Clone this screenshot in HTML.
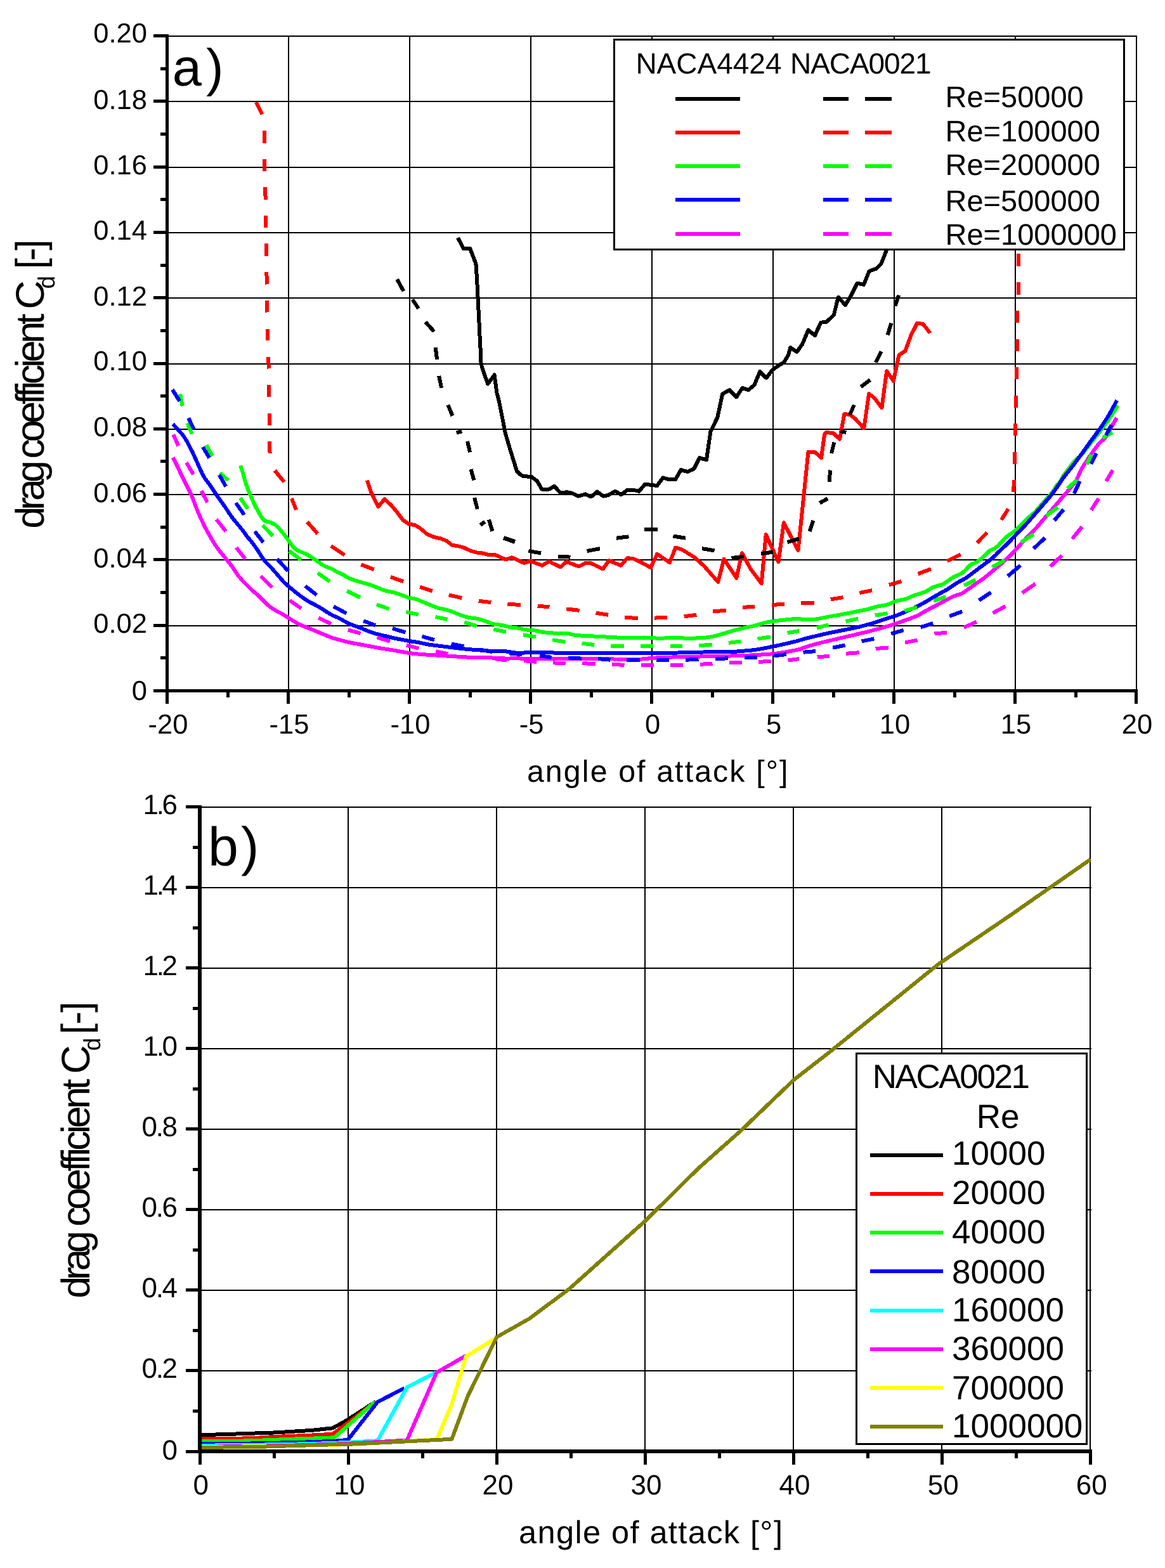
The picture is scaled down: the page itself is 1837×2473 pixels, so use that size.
<!DOCTYPE html>
<html><head><meta charset="utf-8"><title>drag coefficient</title>
<style>
html,body{margin:0;padding:0;background:#fff;}
svg{display:block;}
text{font-family:"Liberation Sans",Arial,sans-serif;fill:#000;text-rendering:geometricPrecision;}
</style></head>
<body>
<svg width="1837" height="2473" viewBox="0 0 1837 2473" shape-rendering="crispEdges">
<rect width="1837" height="2473" fill="#fff"/>
<rect x="266.00" y="985.70" width="1526.00" height="2.00" fill="#000"/>
<rect x="266.00" y="882.40" width="1526.00" height="2.00" fill="#000"/>
<rect x="266.00" y="779.10" width="1526.00" height="2.00" fill="#000"/>
<rect x="266.00" y="675.80" width="1526.00" height="2.00" fill="#000"/>
<rect x="266.00" y="572.50" width="1526.00" height="2.00" fill="#000"/>
<rect x="266.00" y="469.20" width="1526.00" height="2.00" fill="#000"/>
<rect x="266.00" y="365.90" width="1526.00" height="2.00" fill="#000"/>
<rect x="266.00" y="262.60" width="1526.00" height="2.00" fill="#000"/>
<rect x="266.00" y="159.30" width="1526.00" height="2.00" fill="#000"/>
<rect x="266.00" y="56.00" width="1526.00" height="2.00" fill="#000"/>
<rect x="453.50" y="56.00" width="2.00" height="1031.00" fill="#000"/>
<rect x="644.50" y="56.00" width="2.00" height="1031.00" fill="#000"/>
<rect x="835.50" y="56.00" width="2.00" height="1031.00" fill="#000"/>
<rect x="1026.50" y="56.00" width="2.00" height="1031.00" fill="#000"/>
<rect x="1217.50" y="56.00" width="2.00" height="1031.00" fill="#000"/>
<rect x="1408.50" y="56.00" width="2.00" height="1031.00" fill="#000"/>
<rect x="1599.50" y="56.00" width="2.00" height="1031.00" fill="#000"/>
<rect x="1790.50" y="56.00" width="2.00" height="1031.00" fill="#000"/>
<path d="M722.1,375.0 L730.8,392.3 L741.0,391.5 L750.4,415.9 L752.0,438.7 L753.6,470.2 L755.9,517.4 L757.5,548.9 L758.6,574.0 L763.0,588.2 L769.3,605.5 L779.6,591.4 L783.5,620.0 L786.6,631.5 L792.9,663.0 L796.9,683.4 L802.4,702.3 L808.7,722.8 L815.0,743.2 L820.0,747.9 L825.2,751.1 L837.8,751.9 L847.2,759.0 L854.3,771.5 L866.1,771.5 L874.0,766.8 L883.4,777.1 L894.4,776.3 L902.3,777.8 L911.7,782.6 L922.8,779.4 L932.2,783.4 L941.6,775.5 L951.1,782.6 L959.0,781.0 L970.0,774.7 L979.4,780.2 L988.9,773.1 L999.9,773.1 L1007.7,774.7 L1017.2,763.7 L1036.1,766.0 L1045.5,753.5 L1053.4,755.8 L1060.0,755.8 L1065.2,755.9 L1073.8,741.0 L1084.1,744.1 L1094.3,739.4 L1103.0,722.1 L1114.0,725.3 L1120.3,681.2 L1131.3,658.4 L1139.2,621.4 L1150.2,615.1 L1161.2,626.1 L1170.6,611.9 L1180.1,615.1 L1189.5,607.2 L1198.2,586.0 L1208.4,596.2 L1217.8,583.6 L1228.9,575.7 L1235.9,571.8 L1243.0,560.0 L1246.3,548.1 L1256.5,555.2 L1265.2,542.6 L1274.6,520.5 L1284.9,529.2 L1294.3,508.7 L1303.0,507.9 L1314.8,496.9 L1321.8,468.6 L1332.9,481.2 L1342.3,465.4 L1351.7,446.6 L1362.0,448.9 L1370.6,427.7 L1381.6,423.7 L1389.5,415.9 L1396.6,397.8 L1402.1,385.2" fill="none" stroke="#000000" stroke-width="6" stroke-linejoin="round"/>
<path d="M578.9,757.4 L585.2,776.3 L596.2,799.1 L606.4,787.3 L616.7,796.7 L626.1,807.7 L635.5,820.3 L645.0,826.6 L654.4,828.2 L662.3,832.9 L673.3,842.4 L684.3,847.1 L695.4,849.5 L704.8,853.4 L712.7,859.7 L721.9,861.2 L731.4,863.6 L740.8,868.3 L751.8,871.5 L760.0,872.3 L768.9,874.6 L781.5,875.4 L797.2,882.5 L807.4,879.3 L826.3,888.0 L836.6,884.9 L854.7,891.9 L865.7,885.6 L883.8,894.3 L893.2,886.0 L912.9,893.5 L923.1,888.0 L931.0,888.0 L950.7,897.4 L960.1,884.1 L979.0,891.9 L989.2,880.1 L998.7,881.2 L1010.0,886.4 L1026.0,895.1 L1036.2,873.8 L1055.9,887.2 L1065.3,863.6 L1075.5,866.8 L1094.4,878.6 L1110.2,892.7 L1132.2,917.9 L1141.6,881.7 L1161.3,911.6 L1170.0,872.3 L1184.1,898.2 L1200.7,920.3 L1207.7,843.1 L1227.4,886.4 L1235.9,824.4 L1258.5,868.0 L1274.5,712.7 L1285.5,713.5 L1295.0,722.1 L1300.0,685.9 L1302.3,682.0 L1313.9,683.0 L1324.1,692.7 L1331.3,653.0 L1340.0,653.9 L1347.8,659.8 L1362.3,675.3 L1370.1,621.0 L1378.8,627.8 L1390.4,643.3 L1398.2,585.2 L1408.8,600.7 L1417.5,560.0 L1427.3,553.6 L1436.7,528.4 L1446.2,509.5 L1455.6,511.1 L1466.6,525.3" fill="none" stroke="#ff0000" stroke-width="6" stroke-linejoin="round"/>
<path d="M378.9,734.1 L380.3,738.0 L381.6,741.7 L382.8,745.5 L383.9,749.3 L384.9,753.2 L386.1,757.1 L387.2,760.9 L388.4,764.7 L389.7,768.5 L391.1,772.3 L392.7,776.0 L394.2,779.6 L395.8,783.3 L397.4,787.0 L399.0,790.7 L400.7,794.3 L402.5,797.9 L404.3,801.5 L406.2,805.0 L408.2,808.5 L410.1,812.0 L412.2,815.4 L414.4,818.7 L417.2,821.3 L420.7,822.7 L424.6,823.5 L428.4,824.6 L431.9,826.4 L435.2,828.7 L438.1,831.4 L440.8,834.3 L443.4,837.3 L446.0,840.4 L448.5,843.5 L450.9,846.8 L453.2,850.0 L455.5,853.3 L457.8,856.6 L460.1,859.8 L462.7,862.9 L465.5,865.7 L468.8,867.9 L472.3,869.6 L476.1,871.1 L479.8,872.5 L483.4,874.1 L486.8,876.2 L490.1,878.5 L493.5,880.7 L496.9,882.8 L500.2,885.1 L503.5,887.4 L506.7,889.8 L510.1,891.9 L513.7,893.5 L517.4,894.9 L521.2,896.4 L524.8,898.1 L528.2,900.1 L531.7,902.1 L535.3,903.8 L539.0,905.4 L542.5,907.3 L545.8,909.5 L549.3,911.5 L552.9,913.1 L556.7,914.4 L560.5,915.7 L564.3,916.8 L568.2,917.9 L572.1,919.0 L575.9,920.1 L579.8,921.2 L583.6,922.3 L587.4,923.7 L591.1,925.2 L594.8,926.7 L598.5,928.2 L602.2,929.8 L606.0,931.2 L609.8,932.2 L613.8,932.9 L617.7,933.7 L621.6,934.6 L625.4,935.8 L629.2,937.0 L633.0,938.3 L636.8,939.8 L640.5,941.3 L644.2,942.6 L648.1,943.4 L652.1,944.0 L655.9,945.0 L659.7,946.4 L663.4,948.0 L667.1,949.5 L670.8,951.0 L674.5,952.5 L678.2,954.0 L681.9,955.5 L685.7,957.0 L689.4,958.5 L693.2,959.6 L697.1,960.3 L701.1,961.0 L704.9,962.0 L708.7,963.2 L712.5,964.6 L716.2,966.0 L719.9,967.6 L723.7,969.1 L727.4,970.5 L731.2,971.7 L735.0,972.9 L738.9,973.9 L742.9,974.5 L746.8,974.9 L750.8,975.5 L754.7,976.4 L758.5,977.6 L762.3,978.7 L766.1,979.9 L769.8,981.4 L773.6,982.9 L777.3,984.1 L781.2,984.9 L785.2,985.2 L789.2,985.6 L793.1,986.3 L797.0,987.3 L800.9,988.3 L804.7,989.2 L808.7,989.7 L812.7,990.1 L816.7,990.6 L820.6,991.4 L824.5,992.4 L828.4,993.2 L832.4,993.6 L836.4,993.8 L840.4,994.1 L844.3,994.5 L848.3,995.2 L852.1,996.2 L856.1,997.0 L860.0,997.5 L864.0,997.8 L868.0,998.1 L872.0,998.5 L876.0,998.9 L880.0,999.3 L884.0,999.5 L888.0,999.3 L891.9,999.0 L895.9,999.2 L899.8,1000.0 L903.6,1001.0 L907.5,1001.9 L911.5,1002.3 L915.5,1002.5 L919.5,1002.7 L923.5,1002.9 L927.5,1003.1 L931.5,1003.3 L935.5,1003.5 L939.5,1003.7 L943.5,1003.9 L947.5,1004.1 L951.6,1004.3 L955.6,1004.5 L959.6,1004.7 L963.6,1004.9 L967.6,1005.1 L971.6,1005.4 L975.6,1005.7 L979.6,1006.0 L983.6,1006.3 L987.6,1006.4 L991.6,1006.4 L995.6,1006.3 L999.6,1006.2 L1003.6,1006.2 L1007.6,1006.0 L1011.6,1005.8 L1015.6,1005.5 L1019.6,1005.6 L1023.6,1005.8 L1027.6,1006.1 L1031.6,1006.4 L1035.6,1006.6 L1039.6,1006.7 L1043.6,1006.6 L1047.6,1006.5 L1051.6,1006.4 L1055.6,1006.3 L1059.6,1006.2 L1063.6,1006.1 L1067.6,1006.2 L1071.6,1006.3 L1075.6,1006.4 L1079.7,1006.6 L1083.7,1006.7 L1087.7,1006.7 L1091.7,1006.7 L1095.7,1006.6 L1099.7,1006.4 L1103.7,1006.3 L1107.7,1006.1 L1111.7,1005.7 L1115.7,1005.2 L1119.6,1004.6 L1123.6,1004.0 L1127.5,1003.1 L1131.3,1002.0 L1135.2,1000.9 L1139.0,999.7 L1142.9,998.6 L1146.7,997.4 L1150.6,996.3 L1154.4,995.1 L1158.3,994.1 L1162.1,993.1 L1166.0,992.1 L1169.9,991.1 L1173.8,990.2 L1177.7,989.4 L1181.7,988.6 L1185.6,987.8 L1189.5,986.9 L1193.4,985.8 L1197.2,984.7 L1201.1,983.5 L1204.9,982.5 L1208.8,981.6 L1212.8,980.8 L1216.7,980.0 L1220.6,979.4 L1224.6,978.9 L1228.6,978.5 L1232.6,978.1 L1236.6,977.7 L1240.6,977.3 L1244.6,976.9 L1248.6,976.5 L1252.5,976.1 L1256.5,975.8 L1260.4,976.0 L1264.3,976.8 L1268.2,977.3 L1272.2,977.3 L1276.2,977.1 L1280.2,977.0 L1284.2,976.7 L1288.1,976.3 L1292.1,975.5 L1296.0,974.7 L1299.9,973.9 L1303.9,973.1 L1307.8,972.4 L1311.8,971.7 L1315.7,971.0 L1319.7,970.4 L1323.6,969.7 L1327.6,969.0 L1331.5,968.3 L1335.4,967.5 L1339.4,966.7 L1343.3,965.9 L1347.2,965.2 L1351.2,964.4 L1355.1,963.6 L1359.0,962.8 L1363.0,962.0 L1366.9,961.2 L1370.8,960.1 L1374.6,959.0 L1378.4,957.9 L1382.3,956.8 L1386.2,956.0 L1390.2,955.3 L1394.1,954.7 L1398.0,953.9 L1401.8,952.7 L1405.4,951.0 L1409.1,949.4 L1412.8,948.1 L1416.7,947.0 L1420.6,946.3 L1424.6,945.6 L1428.4,944.7 L1432.1,943.1 L1435.7,941.4 L1439.4,939.8 L1443.1,938.4 L1447.0,937.2 L1450.8,936.1 L1454.6,935.0 L1458.3,933.6 L1461.8,931.7 L1465.3,929.6 L1468.7,927.5 L1472.3,925.8 L1476.1,924.5 L1479.9,923.4 L1483.8,922.6 L1487.4,921.1 L1490.7,919.0 L1493.9,916.6 L1497.2,914.3 L1500.5,912.0 L1503.9,910.0 L1507.5,908.3 L1511.2,906.8 L1514.8,905.0 L1518.2,902.9 L1521.1,900.3 L1523.9,897.4 L1526.6,894.4 L1529.4,891.7 L1532.7,889.6 L1536.4,888.2 L1540.0,886.6 L1543.2,884.3 L1546.3,881.8 L1549.4,879.2 L1552.3,876.5 L1555.2,873.7 L1558.0,870.9 L1561.0,868.3 L1564.5,866.6 L1568.1,865.1 L1571.3,862.9 L1574.2,860.1 L1576.9,857.3 L1579.7,854.3 L1582.4,851.4 L1585.2,848.5 L1588.2,845.9 L1591.4,843.5 L1594.7,841.2 L1598.0,838.9 L1601.1,836.5 L1604.1,833.8 L1607.0,831.0 L1609.8,828.1 L1612.7,825.3 L1615.5,822.5 L1618.3,819.6 L1621.2,816.8 L1624.1,814.1 L1627.2,811.5 L1630.3,809.0 L1633.2,806.2 L1635.8,803.3 L1638.4,800.2 L1641.0,797.1 L1643.7,794.1 L1646.3,791.1 L1649.0,788.2 L1651.7,785.2 L1654.4,782.2 L1657.1,779.3 L1659.6,776.2 L1661.8,772.8 L1663.8,769.3 L1665.9,766.0 L1668.4,763.0 L1671.2,760.3 L1673.4,757.2 L1675.0,753.6 L1677.0,750.1 L1679.3,746.9 L1681.7,743.7 L1684.1,740.5 L1686.6,737.3 L1689.0,734.1 L1691.4,730.9 L1693.9,727.8 L1696.7,725.0 L1699.7,722.3 L1702.8,719.7 L1705.6,716.9 L1708.2,713.9 L1710.7,710.7 L1713.1,707.5 L1715.6,704.4 L1718.0,701.2 L1720.5,698.0 L1723.0,694.9 L1725.5,691.7 L1728.0,688.6 L1730.5,685.5 L1733.0,682.3 L1735.5,679.2 L1737.9,676.0 L1740.3,672.8 L1742.7,669.6 L1745.1,666.4 L1747.5,663.2 L1749.7,659.8 L1751.9,656.5 L1754.1,653.1 L1756.2,649.7 L1758.4,646.3 L1760.5,643.0 L1762.7,639.6" fill="none" stroke="#00ff00" stroke-width="6" stroke-linejoin="round"/>
<path d="M272.7,668.8 L275.6,672.0 L278.1,674.7 L280.8,677.6 L283.5,680.6 L286.1,683.7 L288.6,686.8 L290.9,690.0 L293.1,693.4 L295.1,696.8 L297.0,700.3 L298.8,703.9 L300.6,707.5 L302.4,711.0 L304.2,714.6 L305.9,718.3 L307.5,721.9 L309.2,725.6 L310.8,729.2 L312.4,732.9 L314.1,736.6 L315.7,740.2 L317.4,743.9 L319.1,747.5 L321.0,751.0 L323.1,754.4 L325.4,757.6 L327.9,760.7 L330.3,763.9 L332.6,767.2 L334.7,770.6 L336.9,774.0 L339.1,777.3 L341.4,780.6 L343.7,783.8 L346.0,787.1 L348.4,790.4 L350.7,793.6 L353.0,796.9 L355.3,800.2 L357.5,803.5 L359.7,806.9 L361.9,810.2 L364.2,813.5 L366.5,816.7 L369.0,819.9 L371.5,823.0 L374.1,826.1 L376.6,829.1 L379.2,832.2 L381.7,835.4 L384.1,838.6 L386.5,841.8 L388.8,845.0 L391.3,848.2 L393.9,851.2 L396.4,854.3 L398.9,857.4 L401.3,860.7 L403.6,864.0 L405.8,867.3 L408.0,870.6 L410.2,874.0 L412.3,877.4 L414.4,880.7 L416.8,883.9 L419.5,886.9 L422.3,889.7 L425.1,892.6 L427.9,895.5 L430.5,898.4 L433.1,901.5 L435.8,904.5 L438.4,907.5 L441.0,910.6 L443.6,913.6 L446.3,916.6 L449.1,919.4 L452.0,922.1 L455.0,924.8 L458.1,927.4 L461.2,929.9 L464.3,932.5 L467.4,935.0 L470.6,937.4 L473.7,939.9 L477.0,942.2 L480.2,944.6 L483.6,946.7 L487.0,948.8 L490.5,950.8 L494.0,952.6 L497.6,954.4 L501.1,956.3 L504.6,958.3 L508.0,960.4 L511.3,962.6 L514.7,964.8 L518.1,966.9 L521.5,969.0 L525.1,970.8 L528.7,972.4 L532.4,973.9 L536.0,975.6 L539.5,977.6 L542.9,979.7 L546.4,981.6 L550.0,983.4 L553.7,984.8 L557.4,986.3 L561.2,987.7 L564.9,989.1 L568.7,990.5 L572.4,992.0 L576.1,993.5 L579.8,995.1 L583.5,996.6 L587.3,997.9 L591.1,999.0 L595.0,1000.1 L598.8,1001.1 L602.7,1002.0 L606.6,1002.9 L610.5,1003.8 L614.4,1004.7 L618.3,1005.7 L622.2,1006.6 L626.1,1007.4 L630.1,1008.2 L634.0,1008.9 L637.9,1009.7 L641.9,1010.4 L645.8,1011.1 L649.8,1011.7 L653.7,1012.3 L657.7,1012.8 L661.6,1013.5 L665.5,1014.4 L669.4,1015.3 L673.4,1016.1 L677.3,1016.8 L681.3,1017.3 L685.2,1017.8 L689.2,1018.3 L693.2,1018.8 L697.2,1019.3 L701.1,1019.8 L705.1,1020.3 L709.1,1020.8 L713.1,1021.3 L717.0,1021.8 L721.0,1022.2 L725.0,1022.7 L729.0,1023.1 L733.0,1023.5 L736.9,1023.9 L740.9,1024.2 L744.9,1024.6 L748.9,1024.9 L752.9,1025.2 L756.9,1025.5 L760.9,1025.7 L764.9,1026.0 L768.9,1026.4 L772.9,1026.8 L776.8,1027.0 L780.8,1027.0 L784.8,1026.9 L788.8,1026.8 L792.8,1026.9 L796.8,1027.3 L800.8,1027.8 L804.7,1028.3 L808.7,1028.9 L812.6,1029.5 L816.6,1029.9 L820.6,1030.0 L824.5,1029.7 L828.5,1029.3 L832.5,1029.1 L836.5,1029.2 L840.5,1029.4 L844.5,1029.5 L848.5,1029.4 L852.5,1029.2 L856.5,1029.1 L860.5,1029.0 L864.5,1029.1 L868.5,1029.3 L872.5,1029.5 L876.5,1029.7 L880.5,1029.9 L884.5,1030.1 L888.5,1030.3 L892.5,1030.4 L896.5,1030.4 L900.5,1030.4 L904.5,1030.4 L908.5,1030.4 L912.5,1030.4 L916.5,1030.4 L920.5,1030.4 L924.5,1030.4 L928.5,1030.4 L932.6,1030.4 L936.6,1030.4 L940.6,1030.4 L944.6,1030.4 L948.6,1030.4 L952.6,1030.4 L956.6,1030.4 L960.6,1030.4 L964.6,1030.4 L968.6,1030.4 L972.6,1030.4 L976.6,1030.4 L980.6,1030.4 L984.6,1030.4 L988.6,1030.4 L992.6,1030.4 L996.6,1030.4 L1000.6,1030.4 L1004.6,1030.4 L1008.7,1030.4 L1012.7,1030.3 L1016.7,1030.2 L1020.7,1030.0 L1024.7,1029.9 L1028.7,1029.8 L1032.7,1029.7 L1036.7,1029.7 L1040.7,1029.6 L1044.7,1029.6 L1048.7,1029.6 L1052.7,1029.6 L1056.7,1029.6 L1060.7,1029.6 L1064.7,1029.6 L1068.7,1029.5 L1072.7,1029.4 L1076.7,1029.3 L1080.7,1029.2 L1084.7,1029.1 L1088.7,1029.0 L1092.7,1028.9 L1096.7,1028.8 L1100.7,1028.7 L1104.7,1028.6 L1108.8,1028.5 L1112.8,1028.4 L1116.8,1028.3 L1120.8,1028.2 L1124.8,1028.1 L1128.8,1028.1 L1132.8,1028.2 L1136.8,1028.2 L1140.8,1028.3 L1144.8,1028.3 L1148.8,1028.3 L1152.8,1028.1 L1156.8,1027.9 L1160.8,1027.6 L1164.8,1027.3 L1168.8,1027.0 L1172.8,1026.6 L1176.7,1026.3 L1180.7,1025.9 L1184.7,1025.6 L1188.7,1025.1 L1192.7,1024.6 L1196.6,1023.9 L1200.6,1023.2 L1204.5,1022.5 L1208.4,1021.8 L1212.4,1021.0 L1216.3,1020.2 L1220.2,1019.4 L1224.1,1018.6 L1228.0,1017.7 L1232.0,1016.9 L1235.9,1016.0 L1239.8,1015.1 L1243.7,1014.2 L1247.6,1013.2 L1251.5,1012.3 L1255.4,1011.4 L1259.2,1010.3 L1263.0,1009.2 L1266.9,1008.0 L1270.7,1007.0 L1274.6,1006.0 L1278.5,1005.0 L1282.4,1004.1 L1286.3,1003.2 L1290.2,1002.2 L1294.1,1001.3 L1298.0,1000.4 L1301.9,999.5 L1305.8,998.7 L1309.7,997.8 L1313.7,997.1 L1317.6,996.3 L1321.5,995.5 L1325.4,994.7 L1329.4,993.9 L1333.3,993.1 L1337.2,992.3 L1341.1,991.6 L1345.1,990.8 L1349.0,990.0 L1352.9,989.1 L1356.8,988.1 L1360.7,987.1 L1364.5,986.1 L1368.4,985.0 L1372.3,984.0 L1376.1,982.9 L1379.9,981.7 L1383.7,980.4 L1387.5,979.2 L1391.3,977.9 L1395.1,976.6 L1398.9,975.4 L1402.8,974.2 L1406.6,973.0 L1410.4,971.9 L1414.2,970.6 L1417.9,969.1 L1421.6,967.6 L1425.3,965.9 L1428.9,964.3 L1432.6,962.6 L1436.2,961.0 L1439.9,959.3 L1443.5,957.7 L1447.1,955.9 L1450.7,954.1 L1454.2,952.2 L1457.7,950.2 L1461.2,948.3 L1464.7,946.3 L1468.1,944.2 L1471.5,942.2 L1475.0,940.1 L1478.4,938.1 L1481.9,936.1 L1485.4,934.2 L1488.9,932.3 L1492.4,930.3 L1495.8,928.2 L1499.1,925.9 L1502.4,923.7 L1505.8,921.4 L1509.1,919.3 L1512.6,917.3 L1516.1,915.4 L1519.7,913.6 L1523.1,911.6 L1526.4,909.3 L1529.6,906.9 L1532.8,904.4 L1535.9,902.0 L1539.1,899.6 L1542.3,897.2 L1545.5,894.7 L1548.7,892.4 L1552.0,890.0 L1555.2,887.6 L1558.5,885.3 L1561.6,882.9 L1564.7,880.3 L1567.6,877.6 L1570.5,874.8 L1573.3,871.9 L1576.2,869.1 L1579.0,866.4 L1582.0,863.6 L1584.9,860.9 L1587.8,858.1 L1590.6,855.3 L1593.4,852.5 L1596.2,849.5 L1598.9,846.6 L1601.6,843.7 L1604.4,840.8 L1607.3,838.0 L1610.1,835.1 L1612.9,832.3 L1615.6,829.4 L1618.3,826.4 L1620.9,823.4 L1623.6,820.3 L1626.2,817.3 L1628.8,814.3 L1631.5,811.3 L1634.1,808.3 L1636.8,805.3 L1639.4,802.3 L1642.0,799.2 L1644.6,796.2 L1647.2,793.1 L1649.8,790.1 L1652.4,787.0 L1655.0,784.0 L1657.5,780.9 L1660.0,777.7 L1662.4,774.5 L1664.7,771.3 L1667.0,768.0 L1669.3,764.7 L1671.5,761.4 L1673.7,758.0 L1675.9,754.7 L1678.3,751.5 L1680.8,748.3 L1683.3,745.2 L1685.8,742.1 L1688.3,738.9 L1690.7,735.8 L1693.2,732.6 L1695.6,729.4 L1697.9,726.2 L1700.3,722.9 L1702.7,719.7 L1705.1,716.5 L1707.4,713.3 L1709.8,710.0 L1712.1,706.7 L1714.4,703.5 L1716.8,700.2 L1719.1,697.0 L1721.4,693.7 L1723.8,690.5 L1726.2,687.3 L1728.6,684.1 L1731.0,680.8 L1733.3,677.6 L1735.7,674.4 L1737.9,671.1 L1740.1,667.7 L1742.3,664.4 L1744.5,661.0 L1746.7,657.6 L1748.7,654.2 L1750.7,650.7 L1752.6,647.2 L1754.5,643.7 L1756.5,640.2 L1758.3,636.8 L1759.9,633.8 L1761.3,631.4" fill="none" stroke="#0000ff" stroke-width="6" stroke-linejoin="round"/>
<path d="M272.7,721.5 L274.7,725.3 L276.4,728.6 L278.2,732.2 L279.9,735.8 L281.6,739.4 L283.2,743.1 L284.9,746.7 L286.7,750.3 L288.5,753.9 L290.3,757.5 L292.0,761.1 L293.8,764.7 L295.6,768.3 L297.4,771.8 L299.2,775.4 L301.0,779.0 L302.6,782.7 L304.1,786.4 L305.5,790.2 L306.9,793.9 L308.3,797.7 L309.8,801.4 L311.3,805.1 L312.8,808.8 L314.4,812.5 L316.0,816.1 L317.7,819.8 L319.4,823.4 L321.1,827.0 L322.9,830.6 L324.7,834.2 L326.6,837.7 L328.6,841.2 L330.6,844.7 L332.6,848.2 L334.6,851.7 L336.6,855.1 L338.7,858.5 L341.0,861.8 L343.3,865.1 L345.7,868.3 L348.2,871.4 L350.7,874.5 L353.3,877.6 L355.8,880.7 L358.3,883.8 L360.8,886.9 L363.4,890.1 L365.8,893.2 L368.1,896.5 L370.3,899.9 L372.4,903.2 L374.7,906.5 L377.2,909.7 L379.8,912.7 L382.4,915.7 L385.2,918.6 L388.0,921.5 L390.8,924.3 L393.7,927.2 L396.5,930.0 L399.5,932.7 L402.5,935.2 L405.6,937.8 L408.5,940.5 L411.4,943.3 L414.2,946.2 L417.1,949.0 L419.9,951.8 L422.8,954.6 L425.9,957.1 L429.1,959.5 L432.5,961.6 L435.9,963.6 L439.5,965.5 L443.0,967.3 L446.5,969.3 L449.9,971.4 L453.3,973.5 L456.7,975.7 L460.1,977.9 L463.5,980.0 L466.9,982.0 L470.4,983.9 L474.1,985.6 L477.7,987.2 L481.4,988.7 L485.2,990.2 L488.9,991.6 L492.6,993.1 L496.3,994.6 L500.0,996.2 L503.7,997.8 L507.4,999.4 L511.1,1000.9 L514.8,1002.4 L518.5,1003.9 L522.3,1005.3 L526.1,1006.6 L529.9,1007.7 L533.8,1008.8 L537.6,1009.9 L541.5,1010.9 L545.4,1011.9 L549.3,1012.8 L553.2,1013.6 L557.1,1014.4 L561.1,1015.1 L565.0,1015.9 L569.0,1016.6 L572.9,1017.3 L576.8,1018.1 L580.8,1018.8 L584.7,1019.6 L588.7,1020.3 L592.6,1021.0 L596.5,1021.8 L600.5,1022.5 L604.4,1023.1 L608.4,1023.7 L612.4,1024.3 L616.3,1024.9 L620.3,1025.6 L624.2,1026.3 L628.2,1026.9 L632.1,1027.7 L636.1,1028.4 L640.0,1029.1 L644.0,1029.7 L647.9,1030.3 L651.9,1030.8 L655.9,1031.2 L659.9,1031.6 L663.9,1032.0 L667.9,1032.3 L671.9,1032.5 L675.9,1032.8 L679.9,1033.0 L683.9,1033.3 L687.9,1033.5 L691.9,1033.8 L695.9,1034.0 L699.9,1034.3 L703.9,1034.5 L707.9,1034.8 L711.9,1035.0 L715.9,1035.3 L719.9,1035.5 L723.9,1035.8 L727.9,1036.0 L731.9,1036.3 L735.9,1036.5 L739.9,1036.8 L743.9,1037.0 L747.9,1037.3 L751.9,1037.4 L755.9,1037.5 L759.9,1037.3 L763.9,1037.1 L767.9,1037.1 L771.8,1037.2 L775.8,1037.5 L779.8,1037.8 L783.8,1038.1 L787.8,1038.2 L791.8,1038.4 L795.9,1038.5 L799.9,1038.5 L803.9,1038.5 L807.9,1038.4 L811.9,1038.4 L815.9,1038.4 L819.9,1038.5 L823.9,1038.6 L827.9,1038.7 L831.9,1038.8 L835.9,1038.9 L839.9,1039.0 L843.9,1039.1 L847.9,1039.1 L852.0,1039.1 L856.0,1039.1 L860.0,1039.1 L864.0,1039.1 L868.0,1039.1 L872.0,1039.1 L876.0,1039.1 L880.0,1039.1 L884.0,1039.1 L888.0,1039.1 L892.0,1039.1 L896.0,1039.1 L900.0,1039.1 L904.1,1039.1 L908.1,1039.1 L912.1,1039.1 L916.1,1039.1 L920.1,1039.1 L924.1,1039.1 L928.1,1039.1 L932.1,1039.1 L936.1,1039.1 L940.1,1039.1 L944.1,1039.1 L948.1,1039.1 L952.2,1039.1 L956.2,1039.2 L960.2,1039.3 L964.2,1039.4 L968.2,1039.5 L972.2,1039.5 L976.2,1039.6 L980.2,1039.6 L984.2,1039.6 L988.2,1039.6 L992.2,1039.6 L996.2,1039.7 L1000.2,1039.7 L1004.3,1039.8 L1008.3,1039.7 L1012.2,1039.5 L1016.2,1039.2 L1020.2,1038.8 L1024.2,1038.3 L1028.2,1037.9 L1032.2,1037.6 L1036.2,1037.4 L1040.2,1037.2 L1044.2,1037.1 L1048.2,1036.9 L1052.2,1036.8 L1056.2,1036.7 L1060.2,1036.5 L1064.2,1036.4 L1068.2,1036.3 L1072.2,1036.2 L1076.2,1036.1 L1080.3,1036.0 L1084.3,1035.9 L1088.3,1035.8 L1092.3,1035.7 L1096.3,1035.6 L1100.3,1035.5 L1104.3,1035.5 L1108.3,1035.4 L1112.3,1035.4 L1116.3,1035.3 L1120.3,1035.2 L1124.3,1035.2 L1128.3,1035.1 L1132.3,1035.0 L1136.4,1034.9 L1140.4,1034.8 L1144.4,1034.7 L1148.4,1034.6 L1152.4,1034.5 L1156.4,1034.4 L1160.4,1034.3 L1164.4,1034.1 L1168.4,1034.0 L1172.4,1033.8 L1176.4,1033.7 L1180.4,1033.6 L1184.4,1033.4 L1188.4,1033.2 L1192.4,1033.0 L1196.4,1032.8 L1200.4,1032.5 L1204.4,1032.3 L1208.4,1032.0 L1212.4,1031.7 L1216.4,1031.4 L1220.4,1031.1 L1224.4,1030.6 L1228.4,1030.0 L1232.3,1029.4 L1236.3,1028.8 L1240.2,1028.1 L1244.2,1027.4 L1248.1,1026.6 L1252.1,1025.9 L1256.0,1025.1 L1259.9,1024.2 L1263.7,1023.0 L1267.4,1021.6 L1271.2,1020.2 L1275.0,1019.0 L1278.8,1017.9 L1282.7,1016.8 L1286.6,1015.8 L1290.4,1014.7 L1294.3,1013.7 L1298.2,1012.7 L1302.1,1011.8 L1306.0,1010.9 L1309.9,1010.0 L1313.8,1009.1 L1317.7,1008.1 L1321.6,1007.2 L1325.5,1006.3 L1329.4,1005.4 L1333.3,1004.5 L1337.2,1003.6 L1341.1,1002.7 L1345.0,1001.8 L1348.9,1000.9 L1352.8,1000.0 L1356.7,999.0 L1360.6,998.1 L1364.5,997.2 L1368.4,996.3 L1372.3,995.3 L1376.2,994.2 L1380.1,993.2 L1383.9,992.2 L1387.8,991.1 L1391.7,990.1 L1395.5,988.9 L1399.4,987.8 L1403.2,986.6 L1407.0,985.4 L1410.8,984.2 L1414.6,982.9 L1418.4,981.5 L1422.2,980.2 L1425.9,978.8 L1429.7,977.5 L1433.5,976.1 L1437.2,974.7 L1441.0,973.3 L1444.7,971.8 L1448.3,970.1 L1451.8,968.2 L1455.2,966.1 L1458.7,964.1 L1462.2,962.1 L1465.7,960.2 L1469.3,958.4 L1472.9,956.6 L1476.4,954.8 L1480.0,952.9 L1483.5,951.0 L1487.0,949.1 L1490.5,947.1 L1494.1,945.3 L1497.7,943.5 L1501.2,941.7 L1504.9,940.0 L1508.5,938.6 L1512.2,937.6 L1515.8,936.4 L1519.2,934.5 L1522.4,932.3 L1525.7,930.0 L1529.0,927.7 L1532.2,925.3 L1535.5,923.0 L1538.8,920.7 L1542.1,918.4 L1545.4,916.2 L1548.7,913.9 L1551.9,911.5 L1555.0,909.0 L1558.1,906.5 L1561.2,903.9 L1564.3,901.3 L1567.4,898.8 L1570.4,896.2 L1573.5,893.6 L1576.6,891.0 L1579.6,888.4 L1582.6,885.8 L1585.6,883.1 L1588.5,880.3 L1591.3,877.5 L1594.2,874.7 L1597.0,871.8 L1599.7,868.9 L1602.5,866.0 L1605.2,863.0 L1607.9,860.1 L1610.6,857.1 L1613.4,854.2 L1616.1,851.3 L1618.8,848.3 L1621.6,845.5 L1624.4,842.6 L1627.2,839.8 L1630.0,836.9 L1632.7,833.9 L1635.4,830.9 L1638.0,827.9 L1640.6,824.8 L1643.2,821.8 L1645.8,818.7 L1648.4,815.7 L1651.0,812.6 L1653.6,809.6 L1656.2,806.6 L1658.8,803.5 L1661.4,800.5 L1664.1,797.4 L1666.7,794.4 L1669.3,791.3 L1671.9,788.3 L1674.5,785.2 L1677.1,782.2 L1679.7,779.2 L1682.3,776.1 L1684.9,773.0 L1687.4,769.9 L1690.0,766.8 L1692.5,763.8 L1695.0,760.7 L1697.1,757.3 L1698.9,753.8 L1700.6,750.1 L1702.2,746.5 L1703.9,742.9 L1705.7,739.3 L1707.7,735.8 L1709.8,732.4 L1712.1,729.1 L1714.3,725.8 L1716.5,722.4 L1718.7,719.1 L1721.0,715.8 L1723.3,712.5 L1725.6,709.2 L1727.9,706.0 L1730.3,702.8 L1732.9,699.7 L1735.7,696.9 L1738.6,694.2 L1741.5,691.5 L1744.1,688.5 L1746.3,685.2 L1748.2,681.7 L1750.1,678.1 L1752.0,674.6 L1753.9,671.1 L1755.9,667.6 L1757.9,664.2 L1759.5,661.3 L1760.9,658.9" fill="none" stroke="#ff00ff" stroke-width="6" stroke-linejoin="round"/>
<path d="M626.1,440.3 L636.3,459.2 M650.5,472.5 L659.9,486.7 M671.0,507.9 L684.3,522.9 M686.7,548.1 L689.1,567.0 M692.2,592.9 L696.1,611.8 M706.4,638.6 L713.5,655.9 M719.7,682.6 L728.4,680.3 M737.1,696.0 L741.0,713.3 M742.6,740.1 L747.3,757.4 M748.1,784.9 L752.8,803.0 M757.5,828.2 L764.6,822.7 M770.9,819.6 L776.4,837.7 M794.5,848.7 L811.8,855.0 M1016.4,834.5 L1036.9,834.5 M1357.3,610.2 L1372.2,599.2 M1380.9,571.7 L1389.5,554.4 M1399.7,528.4 L1405.3,509.5 M1411.5,482.8 L1417.1,465.4 M1311.0,715.0 L1315.4,697.5 M1325.5,680.1 L1334.2,682.0 M1340.0,654.4 L1346.8,638.5 M1307.8,760.2 L1309.0,741.5 M794.1,847.9 L812.2,854.2 M833.4,869.1 L853.1,872.3 M879.8,877.8 L899.5,878.6 M925.5,869.1 L945.9,865.2 M971.9,848.7 L991.6,846.3 M1061.4,845.5 L1081.1,848.7 M1107.0,865.2 L1126.7,868.3 M1153.5,880.1 L1173.1,877.8 M1199.9,873.1 L1218.8,870.7 M1241.6,855.0 L1260.0,849.4 M1276.8,838.2 L1282.3,820.9 M1292.5,793.4 L1305.1,786.3" fill="none" stroke="#000000" stroke-width="6"/>
<path d="M403.7,161.1 L413.4,180.4 M417.1,206.1 L417.1,225.7 M417.4,250.9 L417.4,269.5 M418.3,295.2 L418.6,314.7 M418.6,340.0 L418.9,359.3 M424.5,652.3 L424.5,671.2 M424.8,696.3 L425.6,715.2 M433.2,742.0 L448.1,760.1 M459.9,786.0 L467.0,804.1 M484.3,823.0 L500.9,841.9 M1606.4,400.1 L1606.4,419.6 M1605.5,445.1 L1605.5,464.5 M419.8,383.9 L419.8,403.6 M420.4,429.1 L420.8,448.5 M421.2,473.6 L421.4,492.5 M421.9,518.5 L421.9,537.4 M423.4,562.6 L423.6,581.5 M423.9,607.4 L424.1,626.3 M522.0,861.2 L543.3,875.4 M569.2,890.4 L589.7,898.2 M615.7,910.0 L636.1,917.1 M662.1,925.8 L681.8,932.1 M707.7,938.4 L728.2,943.1 M754.7,947.8 L774.4,950.2 M800.4,952.5 L820.8,954.1 M847.6,955.7 L866.5,957.3 M893.2,960.4 L913.7,962.8 M939.6,966.7 L959.3,969.8 M985.3,973.8 L1005.8,975.0 M1032.3,974.6 L1051.9,973.8 M1078.7,972.2 L1098.4,969.8 M1124.3,964.3 L1144.8,962.8 M1170.8,958.0 L1190.4,956.5 M1217.2,954.1 L1236.9,952.5 M1263.4,951.5 L1283.8,950.8 M1309.8,945.3 L1329.5,942.1 M1355.4,935.0 L1375.1,931.1 M1401.9,922.4 L1421.5,916.9 M1447.5,905.1 L1468.0,897.3 M1493.6,884.9 L1514.5,874.4 M1540.9,856.2 L1556.3,839.9 M1579.0,819.9 L1589.9,802.7 M1604.4,490.0 L1604.4,509.1 M1603.5,535.4 L1603.5,553.5 M1603.1,579.0 L1603.1,598.0 M1602.2,624.4 L1602.2,642.5 M1601.2,668.0 L1601.2,687.0 M1600.4,713.4 L1600.4,731.5 M1599.0,756.9 L1598.1,776.0" fill="none" stroke="#ff0000" stroke-width="6"/>
<path d="M284.1,621.3 L287.6,640.5 M295.5,667.2 L302.6,684.5 M325.4,701.8 L334.8,719.2 M346.6,745.9 L360.0,757.7 M378.9,785.3 L390.7,802.6 M414.3,828.5 L430.0,845.1 M547.2,932.1 L567.7,942.3 M593.6,953.3 L613.3,960.4 M640.1,965.1 L659.7,969.1 M686.5,973.0 L705.4,976.9 M732.1,981.6 L751.8,987.2 M456.0,869.1 L474.9,883.3 M500.9,903.7 L519.8,917.1 M778.3,992.7 L798.0,996.6 M824.8,1001.3 L845.2,1004.5 M871.2,1009.2 L890.9,1012.3 M917.6,1014.7 L937.3,1017.1 M963.3,1018.6 L983.7,1019.4 M1010.2,1019.4 L1029.9,1019.4 M1056.7,1019.4 L1076.3,1019.4 M1102.3,1017.8 L1122.8,1017.1 M1148.7,1013.9 L1168.4,1011.5 M1194.4,1007.6 L1214.8,1004.5 M1241.6,998.2 L1260.0,995.0 M1287.8,990.1 L1306.7,985.4 M1333.4,979.9 L1353.1,975.9 M1379.8,970.4 L1399.5,967.3 M1426.3,963.4 L1445.9,957.8 M1471.9,947.6 L1491.6,941.3 M1520.0,923.4 L1538.1,914.4 M1564.5,894.4 L1584.4,883.5 M1609.9,855.3 L1629.8,842.6 M1649.8,813.6 L1668.0,800.0 M1682.9,770.5 L1698.2,756.8 M1713.5,732.3 L1721.1,717.0 M1738.7,690.3 L1754.0,681.8" fill="none" stroke="#00ff00" stroke-width="6"/>
<path d="M297.1,659.3 L305.7,676.7 M319.9,705.0 L330.1,722.3 M345.8,749.1 L356.1,767.2 M371.8,793.1 L385.2,812.0 M401.7,838.0 L415.1,855.3 M271.9,614.5 L283.2,632.6 M526.0,956.5 L546.4,967.5 M573.2,979.3 L592.1,986.4 M618.8,991.1 L639.3,997.4 M665.3,1003.7 L684.9,1009.2 M711.7,1015.5 L731.4,1019.4 M437.1,881.7 L454.4,900.6 M481.2,924.2 L499.3,938.4 M756.3,1024.5 L776.8,1028.1 M803.5,1030.4 L823.2,1032.3 M850.7,1034.4 L869.6,1036.7 M896.4,1037.5 L916.8,1038.6 M942.8,1039.1 L962.5,1040.7 M988.4,1040.7 L1008.9,1040.7 M1035.4,1040.7 L1055.1,1040.7 M1081.1,1040.7 L1101.5,1039.9 M1128.3,1039.1 L1147.9,1038.3 M1173.9,1037.5 L1193.6,1036.7 M1220.3,1034.4 L1240.0,1032.0 M1266.5,1028.7 L1286.2,1027.1 M1313.0,1021.6 L1332.6,1017.7 M1358.6,1011.4 L1378.3,1007.4 M1405.0,999.6 L1424.7,994.0 M1451.5,989.3 L1471.1,983.0 M1497.1,971.9 L1517.3,964.3 M1543.6,947.0 L1562.7,934.3 M1589.0,908.9 L1609.0,891.7 M1629.8,865.3 L1648.0,848.1 M1662.5,820.8 L1677.1,803.6 M1693.6,778.2 L1702.8,759.0 M1720.4,731.5 L1728.8,714.7 M1744.1,686.4 L1752.5,670.4" fill="none" stroke="#0000ff" stroke-width="6"/>
<path d="M273.4,685.3 L281.3,703.4 M293.9,729.4 L304.9,748.3 M317.5,774.2 L327.0,792.3 M341.1,819.1 L356.1,838.0 M548.8,993.5 L568.5,999.0 M594.4,1005.3 L614.9,1011.5 M640.9,1017.8 L660.5,1022.6 M687.3,1027.3 L706.2,1031.2 M372.6,863.6 L386.8,881.7 M411.2,908.5 L429.3,926.6 M456.8,947.0 L474.9,959.6 M502.4,974.6 L522.1,984.0 M779.9,1039.1 L799.6,1041.5 M826.3,1042.2 L846.0,1043.8 M872.0,1045.4 L891.6,1046.2 M918.4,1046.2 L938.9,1047.0 M964.8,1047.7 L984.5,1049.0 M1011.0,1048.5 L1030.7,1048.5 M1057.4,1048.5 L1077.1,1048.5 M1103.9,1047.7 L1123.5,1047.0 M1150.3,1045.4 L1170.0,1045.4 M1195.9,1043.8 L1215.6,1043.0 M1242.4,1041.5 L1260.0,1039.1 M1288.6,1036.3 L1308.2,1034.8 M1334.2,1030.8 L1354.7,1029.2 M1380.6,1023.0 L1401.1,1021.4 M1427.1,1013.5 L1446.7,1009.6 M1473.5,999.3 L1493.2,997.8 M1520.0,989.7 L1540.0,980.6 M1565.4,967.0 L1585.4,956.1 M1611.7,935.2 L1632.6,920.7 M1656.2,893.5 L1674.3,876.2 M1690.7,849.9 L1706.1,830.8 M1720.6,804.5 L1732.4,786.3 M1744.1,759.0 L1754.8,741.5" fill="none" stroke="#ff00ff" stroke-width="6"/>
<rect x="261.00" y="54.00" width="5.00" height="1038.00" fill="#000"/>
<rect x="261.00" y="1087.00" width="1533.00" height="5.00" fill="#000"/>
<rect x="242.00" y="1087.00" width="19.00" height="5.00" fill="#000"/>
<rect x="242.00" y="983.70" width="19.00" height="5.00" fill="#000"/>
<rect x="242.00" y="880.40" width="19.00" height="5.00" fill="#000"/>
<rect x="242.00" y="777.10" width="19.00" height="5.00" fill="#000"/>
<rect x="242.00" y="673.80" width="19.00" height="5.00" fill="#000"/>
<rect x="242.00" y="570.50" width="19.00" height="5.00" fill="#000"/>
<rect x="242.00" y="467.20" width="19.00" height="5.00" fill="#000"/>
<rect x="242.00" y="363.90" width="19.00" height="5.00" fill="#000"/>
<rect x="242.00" y="260.60" width="19.00" height="5.00" fill="#000"/>
<rect x="242.00" y="157.30" width="19.00" height="5.00" fill="#000"/>
<rect x="242.00" y="54.00" width="19.00" height="5.00" fill="#000"/>
<rect x="253.00" y="1035.35" width="8.00" height="5.00" fill="#000"/>
<rect x="253.00" y="932.05" width="8.00" height="5.00" fill="#000"/>
<rect x="253.00" y="828.75" width="8.00" height="5.00" fill="#000"/>
<rect x="253.00" y="725.45" width="8.00" height="5.00" fill="#000"/>
<rect x="253.00" y="622.15" width="8.00" height="5.00" fill="#000"/>
<rect x="253.00" y="518.85" width="8.00" height="5.00" fill="#000"/>
<rect x="253.00" y="415.55" width="8.00" height="5.00" fill="#000"/>
<rect x="253.00" y="312.25" width="8.00" height="5.00" fill="#000"/>
<rect x="253.00" y="208.95" width="8.00" height="5.00" fill="#000"/>
<rect x="253.00" y="105.65" width="8.00" height="5.00" fill="#000"/>
<rect x="261.00" y="1092.00" width="5.00" height="18.00" fill="#000"/>
<rect x="452.00" y="1092.00" width="5.00" height="18.00" fill="#000"/>
<rect x="643.00" y="1092.00" width="5.00" height="18.00" fill="#000"/>
<rect x="834.00" y="1092.00" width="5.00" height="18.00" fill="#000"/>
<rect x="1025.00" y="1092.00" width="5.00" height="18.00" fill="#000"/>
<rect x="1216.00" y="1092.00" width="5.00" height="18.00" fill="#000"/>
<rect x="1407.00" y="1092.00" width="5.00" height="18.00" fill="#000"/>
<rect x="1598.00" y="1092.00" width="5.00" height="18.00" fill="#000"/>
<rect x="1789.00" y="1092.00" width="5.00" height="18.00" fill="#000"/>
<rect x="356.50" y="1092.00" width="5.00" height="8.00" fill="#000"/>
<rect x="547.50" y="1092.00" width="5.00" height="8.00" fill="#000"/>
<rect x="738.50" y="1092.00" width="5.00" height="8.00" fill="#000"/>
<rect x="929.50" y="1092.00" width="5.00" height="8.00" fill="#000"/>
<rect x="1120.50" y="1092.00" width="5.00" height="8.00" fill="#000"/>
<rect x="1311.50" y="1092.00" width="5.00" height="8.00" fill="#000"/>
<rect x="1502.50" y="1092.00" width="5.00" height="8.00" fill="#000"/>
<rect x="1693.50" y="1092.00" width="5.00" height="8.00" fill="#000"/>
<text x="232.0" y="1103.8" font-size="43.5" text-anchor="end" >0</text>
<text x="232.0" y="998.2" font-size="43.5" text-anchor="end" >0.02</text>
<text x="232.0" y="894.9" font-size="43.5" text-anchor="end" >0.04</text>
<text x="232.0" y="791.6" font-size="43.5" text-anchor="end" >0.06</text>
<text x="232.0" y="688.3" font-size="43.5" text-anchor="end" >0.08</text>
<text x="232.0" y="584.0" font-size="43.5" text-anchor="end" >0.10</text>
<text x="232.0" y="481.7" font-size="43.5" text-anchor="end" >0.12</text>
<text x="232.0" y="378.4" font-size="43.5" text-anchor="end" >0.14</text>
<text x="232.0" y="275.1" font-size="43.5" text-anchor="end" >0.16</text>
<text x="232.0" y="171.8" font-size="43.5" text-anchor="end" >0.18</text>
<text x="232.0" y="67.0" font-size="43.5" text-anchor="end" >0.20</text>
<text x="265.0" y="1157.0" font-size="43.5" text-anchor="middle" >-20</text>
<text x="456.0" y="1157.0" font-size="43.5" text-anchor="middle" >-15</text>
<text x="647.0" y="1157.0" font-size="43.5" text-anchor="middle" >-10</text>
<text x="838.0" y="1157.0" font-size="43.5" text-anchor="middle" >-5</text>
<text x="1029.0" y="1157.0" font-size="43.5" text-anchor="middle" >0</text>
<text x="1220.0" y="1157.0" font-size="43.5" text-anchor="middle" >5</text>
<text x="1411.0" y="1157.0" font-size="43.5" text-anchor="middle" >10</text>
<text x="1602.0" y="1157.0" font-size="43.5" text-anchor="middle" >15</text>
<text x="1793.0" y="1157.0" font-size="43.5" text-anchor="middle" >20</text>
<rect x="968.5" y="62" width="804" height="331" fill="#fff" stroke="#000" stroke-width="3"/>
<text x="1002.4" y="115.7" font-size="46" text-anchor="start" >NACA4424</text>
<text x="1246.0" y="115.7" font-size="46" text-anchor="start" textLength="222.7" lengthAdjust="spacing">NACA0021</text>
<rect x="1065.00" y="152.90" width="102.00" height="6.00" fill="#000"/>
<rect x="1298.00" y="152.90" width="40.00" height="6.00" fill="#000"/>
<rect x="1364.00" y="152.90" width="42.00" height="6.00" fill="#000"/>
<text x="1490.5" y="168.6" font-size="47" text-anchor="start" >Re=50000</text>
<rect x="1065.00" y="206.00" width="102.00" height="6.00" fill="#f00"/>
<rect x="1298.00" y="206.00" width="40.00" height="6.00" fill="#f00"/>
<rect x="1364.00" y="206.00" width="42.00" height="6.00" fill="#f00"/>
<text x="1490.5" y="223.1" font-size="47" text-anchor="start" >Re=100000</text>
<rect x="1065.00" y="259.40" width="102.00" height="6.00" fill="#0f0"/>
<rect x="1298.00" y="259.40" width="40.00" height="6.00" fill="#0f0"/>
<rect x="1364.00" y="259.40" width="42.00" height="6.00" fill="#0f0"/>
<text x="1490.5" y="275.9" font-size="47" text-anchor="start" >Re=200000</text>
<rect x="1065.00" y="312.30" width="102.00" height="6.00" fill="#00f"/>
<rect x="1298.00" y="312.30" width="40.00" height="6.00" fill="#00f"/>
<rect x="1364.00" y="312.30" width="42.00" height="6.00" fill="#00f"/>
<text x="1490.5" y="333.1" font-size="47" text-anchor="start" >Re=500000</text>
<rect x="1065.00" y="365.80" width="102.00" height="6.00" fill="#f0f"/>
<rect x="1298.00" y="365.80" width="40.00" height="6.00" fill="#f0f"/>
<rect x="1364.00" y="365.80" width="42.00" height="6.00" fill="#f0f"/>
<text x="1490.5" y="385.8" font-size="47" text-anchor="start" >Re=1000000</text>
<text x="271.7" y="134.5" font-size="83" text-anchor="start" >a</text>
<text x="325.0" y="134.6" font-size="82.5" text-anchor="start" >)</text>
<text x="1036.7" y="1232.6" font-size="48.3" text-anchor="middle" textLength="411.6" lengthAdjust="spacing">angle of attack [°]</text>
<rect x="318.00" y="2161.44" width="1403.00" height="2.00" fill="#000"/>
<rect x="318.00" y="2034.38" width="1403.00" height="2.00" fill="#000"/>
<rect x="318.00" y="1907.32" width="1403.00" height="2.00" fill="#000"/>
<rect x="318.00" y="1780.26" width="1403.00" height="2.00" fill="#000"/>
<rect x="318.00" y="1653.20" width="1403.00" height="2.00" fill="#000"/>
<rect x="318.00" y="1526.14" width="1403.00" height="2.00" fill="#000"/>
<rect x="318.00" y="1399.08" width="1403.00" height="2.00" fill="#000"/>
<rect x="318.00" y="1272.02" width="1403.00" height="2.00" fill="#000"/>
<rect x="548.08" y="1272.00" width="2.00" height="1014.00" fill="#000"/>
<rect x="782.16" y="1272.00" width="2.00" height="1014.00" fill="#000"/>
<rect x="1016.24" y="1272.00" width="2.00" height="1014.00" fill="#000"/>
<rect x="1250.32" y="1272.00" width="2.00" height="1014.00" fill="#000"/>
<rect x="1484.40" y="1272.00" width="2.00" height="1014.00" fill="#000"/>
<rect x="1718.48" y="1272.00" width="2.00" height="1014.00" fill="#000"/>
<path d="M315.0,2263.3 L381.8,2261.2 L436.9,2259.3 L493.6,2255.7 L524.6,2252.3 L546.0,2240.5 L592.6,2210.6" fill="none" stroke="#000000" stroke-width="6" stroke-linejoin="round"/>
<path d="M315.0,2268.8 L370.0,2268.8 L402.3,2268.0 L425.9,2266.4 L460.5,2264.8 L496.7,2263.3 L524.6,2261.8 L592.6,2210.8" fill="none" stroke="#ff0000" stroke-width="6" stroke-linejoin="round"/>
<path d="M315.0,2273.5 L378.7,2272.7 L425.9,2271.1 L473.1,2269.2 L510.9,2268.0 L527.3,2267.2 L591.0,2211.0" fill="none" stroke="#00ff00" stroke-width="6" stroke-linejoin="round"/>
<path d="M315.0,2277.4 L363.0,2277.4 L402.3,2276.3 L441.6,2275.5 L488.9,2274.3 L528.2,2272.7 L548.6,2270.8 L595.2,2211.2 L637.8,2189.2" fill="none" stroke="#0000ff" stroke-width="6" stroke-linejoin="round"/>
<path d="M315.0,2279.8 L378.7,2279.0 L441.6,2278.2 L504.6,2276.6 L545.5,2275.1 L595.2,2272.3 L641.8,2187.9 L688.5,2164.0" fill="none" stroke="#00ffff" stroke-width="6" stroke-linejoin="round"/>
<path d="M315.0,2281.8 L402.3,2280.9 L473.1,2279.3 L543.9,2277.1 L641.8,2271.5 L688.5,2164.6 L734.7,2138.1" fill="none" stroke="#ff00ff" stroke-width="6" stroke-linejoin="round"/>
<path d="M315.0,2282.5 L450.0,2280.5 L560.0,2278.0 L688.5,2270.3 L712.4,2214.7 L734.7,2139.5 L783.4,2109.5" fill="none" stroke="#ffff00" stroke-width="6" stroke-linejoin="round"/>
<path d="M315.0,2282.8 L402.3,2282.1 L446.4,2280.6 L498.3,2279.0 L560.0,2277.4 L712.4,2269.8 L737.5,2202.1 L783.3,2108.8 L834.9,2079.6 L898.0,2032.5 L1017.5,1925.5 L1101.7,1842.2 L1167.8,1783.7 L1251.3,1703.5 L1305.1,1661.7 L1368.5,1610.5 L1479.6,1520.7 L1591.9,1444.4 L1719.5,1355.4" fill="none" stroke="#808000" stroke-width="6" stroke-linejoin="round"/>
<rect x="1350.2" y="1661.3" width="363.3" height="616.6" fill="#fff" stroke="#000" stroke-width="2.8"/>
<text x="1375.7" y="1716.2" font-size="53" text-anchor="start" textLength="248.3" lengthAdjust="spacing">NACA0021</text>
<text x="1539.8" y="1778.8" font-size="53" text-anchor="start" >Re</text>
<rect x="1372.00" y="1819.00" width="115.00" height="6.00" fill="#000"/>
<text x="1501.0" y="1836.5" font-size="53" text-anchor="start" >10000</text>
<rect x="1372.00" y="1879.80" width="115.00" height="6.00" fill="#f00"/>
<text x="1501.0" y="1899.3" font-size="53" text-anchor="start" >20000</text>
<rect x="1372.00" y="1941.40" width="115.00" height="6.00" fill="#0f0"/>
<text x="1501.0" y="1961.2" font-size="53" text-anchor="start" >40000</text>
<rect x="1372.00" y="2002.40" width="115.00" height="6.00" fill="#00f"/>
<text x="1501.0" y="2023.9" font-size="53" text-anchor="start" >80000</text>
<rect x="1372.00" y="2064.00" width="115.00" height="6.00" fill="#0ff"/>
<text x="1501.0" y="2083.9" font-size="53" text-anchor="start" >160000</text>
<rect x="1372.00" y="2125.00" width="115.00" height="6.00" fill="#f0f"/>
<text x="1501.0" y="2145.2" font-size="53" text-anchor="start" >360000</text>
<rect x="1372.00" y="2186.00" width="115.00" height="6.00" fill="#ff0"/>
<text x="1501.0" y="2207.3" font-size="53" text-anchor="start" >700000</text>
<rect x="1372.00" y="2247.40" width="115.00" height="6.00" fill="#808000"/>
<text x="1501.0" y="2266.5" font-size="53" text-anchor="start" >1000000</text>
<rect x="312.00" y="1270.00" width="6.00" height="1022.00" fill="#000"/>
<rect x="312.00" y="2286.00" width="1410.00" height="6.00" fill="#000"/>
<rect x="293.00" y="2286.50" width="19.00" height="5.00" fill="#000"/>
<rect x="293.00" y="2159.44" width="19.00" height="5.00" fill="#000"/>
<rect x="293.00" y="2032.38" width="19.00" height="5.00" fill="#000"/>
<rect x="293.00" y="1905.32" width="19.00" height="5.00" fill="#000"/>
<rect x="293.00" y="1778.26" width="19.00" height="5.00" fill="#000"/>
<rect x="293.00" y="1651.20" width="19.00" height="5.00" fill="#000"/>
<rect x="293.00" y="1524.14" width="19.00" height="5.00" fill="#000"/>
<rect x="293.00" y="1397.08" width="19.00" height="5.00" fill="#000"/>
<rect x="293.00" y="1270.02" width="19.00" height="5.00" fill="#000"/>
<rect x="304.00" y="2222.97" width="8.00" height="5.00" fill="#000"/>
<rect x="304.00" y="2095.91" width="8.00" height="5.00" fill="#000"/>
<rect x="304.00" y="1968.85" width="8.00" height="5.00" fill="#000"/>
<rect x="304.00" y="1841.79" width="8.00" height="5.00" fill="#000"/>
<rect x="304.00" y="1714.73" width="8.00" height="5.00" fill="#000"/>
<rect x="304.00" y="1587.67" width="8.00" height="5.00" fill="#000"/>
<rect x="304.00" y="1460.61" width="8.00" height="5.00" fill="#000"/>
<rect x="304.00" y="1333.55" width="8.00" height="5.00" fill="#000"/>
<rect x="312.50" y="2292.00" width="5.00" height="18.00" fill="#000"/>
<rect x="546.58" y="2292.00" width="5.00" height="18.00" fill="#000"/>
<rect x="780.66" y="2292.00" width="5.00" height="18.00" fill="#000"/>
<rect x="1014.74" y="2292.00" width="5.00" height="18.00" fill="#000"/>
<rect x="1248.82" y="2292.00" width="5.00" height="18.00" fill="#000"/>
<rect x="1482.90" y="2292.00" width="5.00" height="18.00" fill="#000"/>
<rect x="1716.98" y="2292.00" width="5.00" height="18.00" fill="#000"/>
<rect x="429.54" y="2292.00" width="5.00" height="8.00" fill="#000"/>
<rect x="663.62" y="2292.00" width="5.00" height="8.00" fill="#000"/>
<rect x="897.70" y="2292.00" width="5.00" height="8.00" fill="#000"/>
<rect x="1131.78" y="2292.00" width="5.00" height="8.00" fill="#000"/>
<rect x="1365.86" y="2292.00" width="5.00" height="8.00" fill="#000"/>
<rect x="1599.94" y="2292.00" width="5.00" height="8.00" fill="#000"/>
<text x="280.0" y="2301.8" font-size="44" text-anchor="end" >0</text>
<text x="280.0" y="2173.4" font-size="44" text-anchor="end" textLength="56.5" lengthAdjust="spacing">0.2</text>
<text x="280.0" y="2046.4" font-size="44" text-anchor="end" textLength="56.5" lengthAdjust="spacing">0.4</text>
<text x="280.0" y="1919.3" font-size="44" text-anchor="end" textLength="56.5" lengthAdjust="spacing">0.6</text>
<text x="280.0" y="1792.3" font-size="44" text-anchor="end" textLength="56.5" lengthAdjust="spacing">0.8</text>
<text x="280.0" y="1665.2" font-size="44" text-anchor="end" textLength="54.5" lengthAdjust="spacing">1.0</text>
<text x="280.0" y="1538.1" font-size="44" text-anchor="end" textLength="54.5" lengthAdjust="spacing">1.2</text>
<text x="280.0" y="1411.1" font-size="44" text-anchor="end" textLength="54.5" lengthAdjust="spacing">1.4</text>
<text x="280.0" y="1284.0" font-size="44" text-anchor="end" textLength="54.5" lengthAdjust="spacing">1.6</text>
<text x="316.8" y="2356.5" font-size="44" text-anchor="middle" >0</text>
<text x="550.9" y="2356.5" font-size="44" text-anchor="middle" >10</text>
<text x="785.0" y="2356.5" font-size="44" text-anchor="middle" >20</text>
<text x="1019.0" y="2356.5" font-size="44" text-anchor="middle" >30</text>
<text x="1253.1" y="2356.5" font-size="44" text-anchor="middle" >40</text>
<text x="1487.2" y="2356.5" font-size="44" text-anchor="middle" >50</text>
<text x="1721.3" y="2356.5" font-size="44" text-anchor="middle" >60</text>
<text x="328.0" y="1364.9" font-size="86" text-anchor="start" >b</text>
<text x="380.0" y="1364.4" font-size="85" text-anchor="start" >)</text>
<text x="1026.0" y="2434.3" font-size="50.5" text-anchor="middle" textLength="416" lengthAdjust="spacing">angle of attack [°]</text>
<g transform="translate(69,833.65) rotate(-90)">
<text x="-0.00" y="0" font-size="63" textLength="107.71" lengthAdjust="spacing">drag</text>
<text x="110.17" y="0" font-size="63" textLength="281.28" lengthAdjust="spacing">coefficient C</text>
<text x="409.15" y="0" font-size="63" textLength="46.98" lengthAdjust="spacing">[-]</text>
<text x="378.15" y="17.00" font-size="37">d</text>
</g>
<g transform="translate(140.8,2047.65) rotate(-90)">
<text x="-0.00" y="0" font-size="63" textLength="106.71" lengthAdjust="spacing">drag</text>
<text x="113.07" y="0" font-size="63" textLength="286.28" lengthAdjust="spacing">coefficient C</text>
<text x="416.25" y="0" font-size="63" textLength="51.88" lengthAdjust="spacing">[-]</text>
<text x="390.35" y="17.20" font-size="37">d</text>
</g>
</svg>
</body></html>
